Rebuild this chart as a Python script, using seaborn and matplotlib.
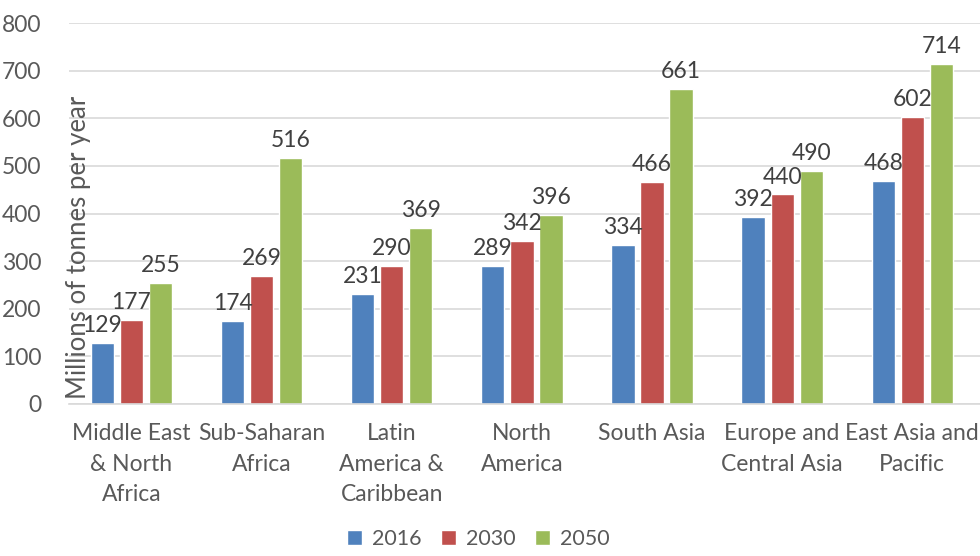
import pandas as pd
import seaborn as sns
import matplotlib.pyplot as plt

regions = ['Middle East\n& North\nAfrica', 'Sub-Saharan\nAfrica', 'Latin\nAmerica &\nCaribbean',
           'North\nAmerica', 'South Asia', 'Europe and\nCentral Asia', 'East Asia and\nPacific']
years = ['2016', '2030', '2050']
v2016 = [129, 174, 231, 289, 334, 392, 468]
v2030 = [177, 269, 290, 342, 466, 440, 602]
v2050 = [255, 516, 369, 396, 661, 490, 714]
colors = ['#4F81BD', '#C0504D', '#9BBB59']

df = pd.DataFrame({
    'region': regions * 3,
    'year': [y for y in years for _ in regions],
    'value': v2016 + v2030 + v2050,
})

sns.set_style('white')
plt.rcParams['font.family'] = ['Lato', 'DejaVu Sans']
text_col = '#595959'

fig = plt.figure(figsize=(9.8, 5.56), dpi=100)
ax = fig.add_axes([0.0704, 0.2734, 0.9296, 0.6852])

sns.barplot(data=df, x='region', y='value', hue='year', palette=colors,
            width=0.67, gap=0.2, ax=ax, legend=True, saturation=1)

for c in ax.containers:
    ax.bar_label(c, padding=5, fontsize=16.5, color='#404040')

ax.set_ylim(0, 800)
ax.set_yticks(range(0, 801, 100))
ax.set_xlim(-0.48, 6.52)
ax.yaxis.grid(True, color='#d9d9d9', linewidth=1.2)
ax.set_axisbelow(True)
for s in ['top', 'right', 'left']:
    ax.spines[s].set_visible(False)
ax.spines['bottom'].set_color('#d9d9d9')
ax.spines['bottom'].set_linewidth(1.2)
ax.tick_params(axis='both', length=0, labelsize=16.5, colors=text_col)
ax.tick_params(axis='x', pad=14)
ax.tick_params(axis='y', pad=20)
for t in ax.get_xticklabels():
    t.set_linespacing(1.55)
ax.set_xlabel('')
ax.set_ylabel('')

fig.text(0.080, 0.555, 'Millions of tonnes per year', rotation=90, ha='center', va='center',
         fontsize=18.5, color=text_col)

handles, labels = ax.get_legend_handles_labels()
ax.get_legend().remove()
fig.legend(handles, labels, loc='lower center', bbox_to_anchor=(0.488, -0.022), ncol=3,
           frameon=False, fontsize=15.5, handlelength=0.7, handleheight=0.7,
           columnspacing=0.9, handletextpad=0.45, labelcolor=text_col)

fig.savefig('out.png', dpi=100)
